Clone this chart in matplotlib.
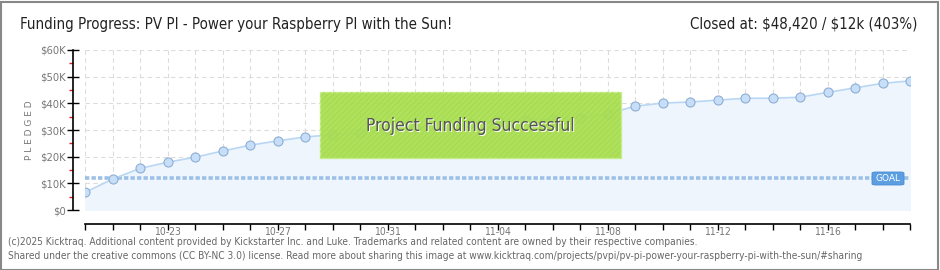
import matplotlib
matplotlib.use("Agg")
import matplotlib.pyplot as plt
from matplotlib.patches import Rectangle, FancyBboxPatch
from matplotlib.ticker import FixedLocator

# daily pledged totals (USD), 10-20 .. 11-19
days = ["10-20", "10-21", "10-22", "10-23", "10-24", "10-25", "10-26", "10-27",
        "10-28", "10-29", "10-30", "10-31", "11-01", "11-02", "11-03", "11-04",
        "11-05", "11-06", "11-07", "11-08", "11-09", "11-10", "11-11", "11-12",
        "11-13", "11-14", "11-15", "11-16", "11-17", "11-18", "11-19"]
pledged = [6600, 11600, 15600, 17900, 19800, 22100, 24300, 25900,
           27400, 28200, 29000, 30000, 30900, 31700, 32500, 33200,
           33800, 34200, 34600, 36100, 38900, 40100, 40500, 41200,
           41900, 41900, 42300, 44100, 45800, 47500, 48420]
goal = 12000
yticks = [0, 10000, 20000, 30000, 40000, 50000, 60000]
ytick_labels = ["$0", "$10K", "$20K", "$30K", "$40K", "$50K", "$60K"]
label_every = 4
first_label = 3

W, H = 940, 270
COND = dict(family="DejaVu Sans", stretch="condensed")

fig = plt.figure(figsize=(W / 100, H / 100), dpi=100)
fig.patch.set_facecolor("white")

ax = fig.add_axes([85 / W, (H - 210) / H, 825 / W, 160 / H])
x = list(range(len(days)))
ax.set_xlim(0, len(days) - 1)
ax.set_ylim(0, 60000)

ax.fill_between(x, pledged, 0, color="#eef5fd", zorder=1)
ax.plot(x, pledged, color="#b9d7f4", lw=1.2, zorder=3)
ax.plot(x, pledged, ls="none", marker="o", ms=6.5, mfc="#c6def8",
        mec="#8eaed4", mew=0.8, zorder=4)
ax.axhline(goal, color="#9dc0e6", lw=2.6, dashes=(1.2, 0.6), zorder=2)

# grid
ax.set_xticks(x)
ax.set_yticks(yticks)
ax.grid(True, color="#dcdcdc", lw=0.8, dashes=(4, 3), zorder=0)
ax.set_axisbelow(True)

for s in ["top", "right"]:
    ax.spines[s].set_visible(False)
ax.spines["left"].set_position(("outward", 9))
ax.spines["bottom"].set_position(("outward", 10))
ax.spines["left"].set_linewidth(1.2)
ax.spines["bottom"].set_linewidth(1.2)

ax.set_yticklabels(ytick_labels, **COND)
ax.yaxis.set_minor_locator(FixedLocator([5000, 15000, 25000, 35000, 45000, 55000]))
ax.tick_params(axis="y", which="major", direction="inout", length=8, width=1,
               color="black", labelsize=8, labelcolor="#777777", pad=1)
ax.tick_params(axis="y", which="minor", direction="out", length=3, width=1,
               color="#e02020")
ax.set_xticklabels([d if (i - first_label) % label_every == 0 and i >= first_label else ""
                    for i, d in enumerate(days)], **COND)
ax.tick_params(axis="x", direction="out", length=4, width=1, color="black",
               labelsize=7.5, labelcolor="#777777", pad=-2)
ax.set_ylabel("P L E D G E D", fontsize=6.5, color="#777777", labelpad=4)

# goal tag
fig.patches.append(FancyBboxPatch((872 / W, (H - 185) / H), 32 / W, 13 / H,
                                  boxstyle="round,pad=0,rounding_size=0.004",
                                  transform=fig.transFigure, fc="#5b9fe2",
                                  ec="#4a8cd0", lw=0.6, zorder=5))
fig.text(888 / W, (H - 178.5) / H, "GOAL", fontsize=6.5, color="white",
         ha="center", va="center", zorder=6)

# success banner
fig.patches.append(Rectangle((320 / W, (H - 158) / H), 301 / W, 66 / H,
                             transform=fig.transFigure, fc="#a9df50",
                             ec="#c6ed8c", lw=1, alpha=0.93, zorder=5))
plt.rcParams["hatch.linewidth"] = 0.4
fig.patches.append(Rectangle((320 / W, (H - 158) / H), 301 / W, 66 / H,
                             transform=fig.transFigure, fc="none",
                             ec="#9fd646", lw=0, hatch="//////", zorder=5))
fig.text(470 / W + 0.0012, (H - 126) / H - 0.004, "Project Funding Successful",
         fontsize=12.5, color="white", ha="center", va="center", zorder=6, **COND)
fig.text(470 / W, (H - 126) / H, "Project Funding Successful",
         fontsize=12.5, color="#555555", ha="center", va="center", zorder=7, **COND)

# header
fig.text(20 / W, (H - 24) / H, "Funding Progress: PV PI - Power your Raspberry PI with the Sun!",
         fontsize=10.8, color="#222222", ha="left", va="center", **COND)
fig.text(918 / W, (H - 24) / H, r"Closed at: \$48,420 / \$12k (403%)",
         fontsize=10.8, color="#222222", ha="right", va="center", **COND)

# footer
fig.text(8 / W, (H - 242) / H,
         "(c)2025 Kicktraq. Additional content provided by Kickstarter Inc. and Luke. "
         "Trademarks and related content are owned by their respective companies.",
         fontsize=7.3, color="#666666", ha="left", va="center", **COND)
fig.text(8 / W, (H - 256) / H,
         "Shared under the creative commons (CC BY-NC 3.0) license. Read more about sharing this image at "
         "www.kicktraq.com/projects/pvpi/pv-pi-power-your-raspberry-pi-with-the-sun/#sharing",
         fontsize=7.3, color="#666666", ha="left", va="center", **COND)

# outer border
fig.patches.append(Rectangle((0.5 / W, 0.5 / H), (W - 3) / W, (H - 2) / H,
                             transform=fig.transFigure, fc="none",
                             ec="#888888", lw=1.5, zorder=10))

fig.savefig("out.png", dpi=100)
